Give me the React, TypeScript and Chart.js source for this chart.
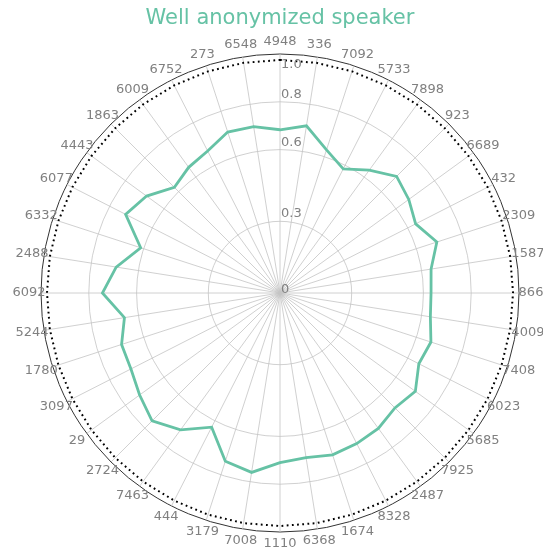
import React, { useEffect, useRef } from "react";
import { Chart, registerables } from "chart.js";

Chart.register(...registerables);

const categories = [
  "4948", "336", "7092", "5733", "7898", "923", "6689", "432", "2309", "1587",
  "866", "4009", "7408", "6023", "5685", "7925", "2487", "8328", "1674", "6368",
  "1110", "7008", "3179", "444", "7463", "2724", "29", "3097", "1780", "5244",
  "6092", "2488", "6332", "6077", "4443", "1863", "6009", "6752", "273", "6548",
];

const speakerValues = [
  0.683, 0.708, 0.63, 0.583, 0.635, 0.69, 0.666, 0.637, 0.69, 0.64,
  0.632, 0.637, 0.664, 0.652, 0.70, 0.68, 0.70, 0.707, 0.712, 0.697,
  0.71, 0.76, 0.74, 0.63, 0.708, 0.757, 0.726, 0.70, 0.697, 0.659,
  0.743, 0.694, 0.613, 0.725, 0.69, 0.625, 0.65, 0.667, 0.708, 0.705,
];

const referenceLevel = 0.975;
const referenceValues = categories.map(() => referenceLevel);

const tickValues = [0, 0.3, 0.6, 0.8, 1.0];
const tickLabels = ["0", "0.3", "0.6", "0.8", "1.0"];

const titleText = "Well anonymized speaker";
const GREEN = "#66c2a5";
const LABEL_GRAY = "#808080";
const FONT = "DejaVu Sans";

const labelPlugin = {
  id: "customLabels",
  afterDraw(chart: any) {
    const scale = chart.scales.r;
    const ctx = chart.ctx;
    ctx.save();
    ctx.fillStyle = LABEL_GRAY;
    ctx.font = `13px "${FONT}"`;
    ctx.textAlign = "center";
    ctx.textBaseline = "middle";
    categories.forEach((lab, i) => {
      const p = scale.getPointPosition(i, scale.drawingArea + 12);
      ctx.fillText(lab, p.x, p.y);
    });
    ctx.textAlign = "left";
    ctx.textBaseline = "alphabetic";
    tickValues.forEach((v, i) => {
      const d = scale.getDistanceFromCenterForValue(v);
      let y = scale.yCenter - d - 4;
      if (v === 0) y = scale.yCenter;
      if (v === scale.max) y = scale.yCenter - d + 14;
      ctx.fillText(tickLabels[i], scale.xCenter + 1, y);
    });
    ctx.restore();
  },
};

export default function App() {
  const ref = useRef<HTMLCanvasElement | null>(null);

  useEffect(() => {
    if (!ref.current) return;
    const chart = new Chart(ref.current, {
      type: "radar",
      data: {
        labels: categories,
        datasets: [
          {
            label: titleText,
            data: speakerValues,
            borderColor: GREEN,
            borderWidth: 2.8,
            pointRadius: 0,
            fill: false,
            tension: 0,
          },
          {
            label: "reference",
            data: referenceValues,
            borderColor: "#000000",
            borderWidth: 2,
            borderDash: [1.8, 3.4],
            pointRadius: 0,
            fill: false,
            tension: 0,
          },
        ],
      },
      options: {
        responsive: false,
        animation: false,
        layout: { padding: { left: 41, right: 24, top: 0, bottom: 22 } },
        plugins: {
          legend: { display: false },
          tooltip: { enabled: false },
          title: {
            display: true,
            text: titleText,
            color: GREEN,
            font: { family: FONT, size: 21, weight: "normal" },
            padding: { top: 6, bottom: 22.8 },
          },
        },
        scales: {
          r: {
            min: 0,
            max: 1,
            startAngle: 0,
            afterBuildTicks: (s: any) => {
              s.ticks = tickValues.map((v) => ({ value: v }));
            },
            ticks: { display: false },
            pointLabels: { display: false },
            grid: {
              circular: true,
              color: (c: any) => (c.tick && c.tick.value === 1 ? "#333333" : "#c4c4c4"),
              lineWidth: (c: any) => (c.tick && c.tick.value === 1 ? 1 : 0.8),
            },
            angleLines: { color: "#c4c4c4", lineWidth: 0.8 },
          },
        },
      } as any,
      plugins: [labelPlugin],
    });
    return () => chart.destroy();
  }, []);

  return (
    <div style={{ position: "fixed", left: 0, top: 0, width: 543, height: 554 }}>
      <canvas ref={ref} width={543} height={554} style={{ display: "block" }} />
    </div>
  );
}
